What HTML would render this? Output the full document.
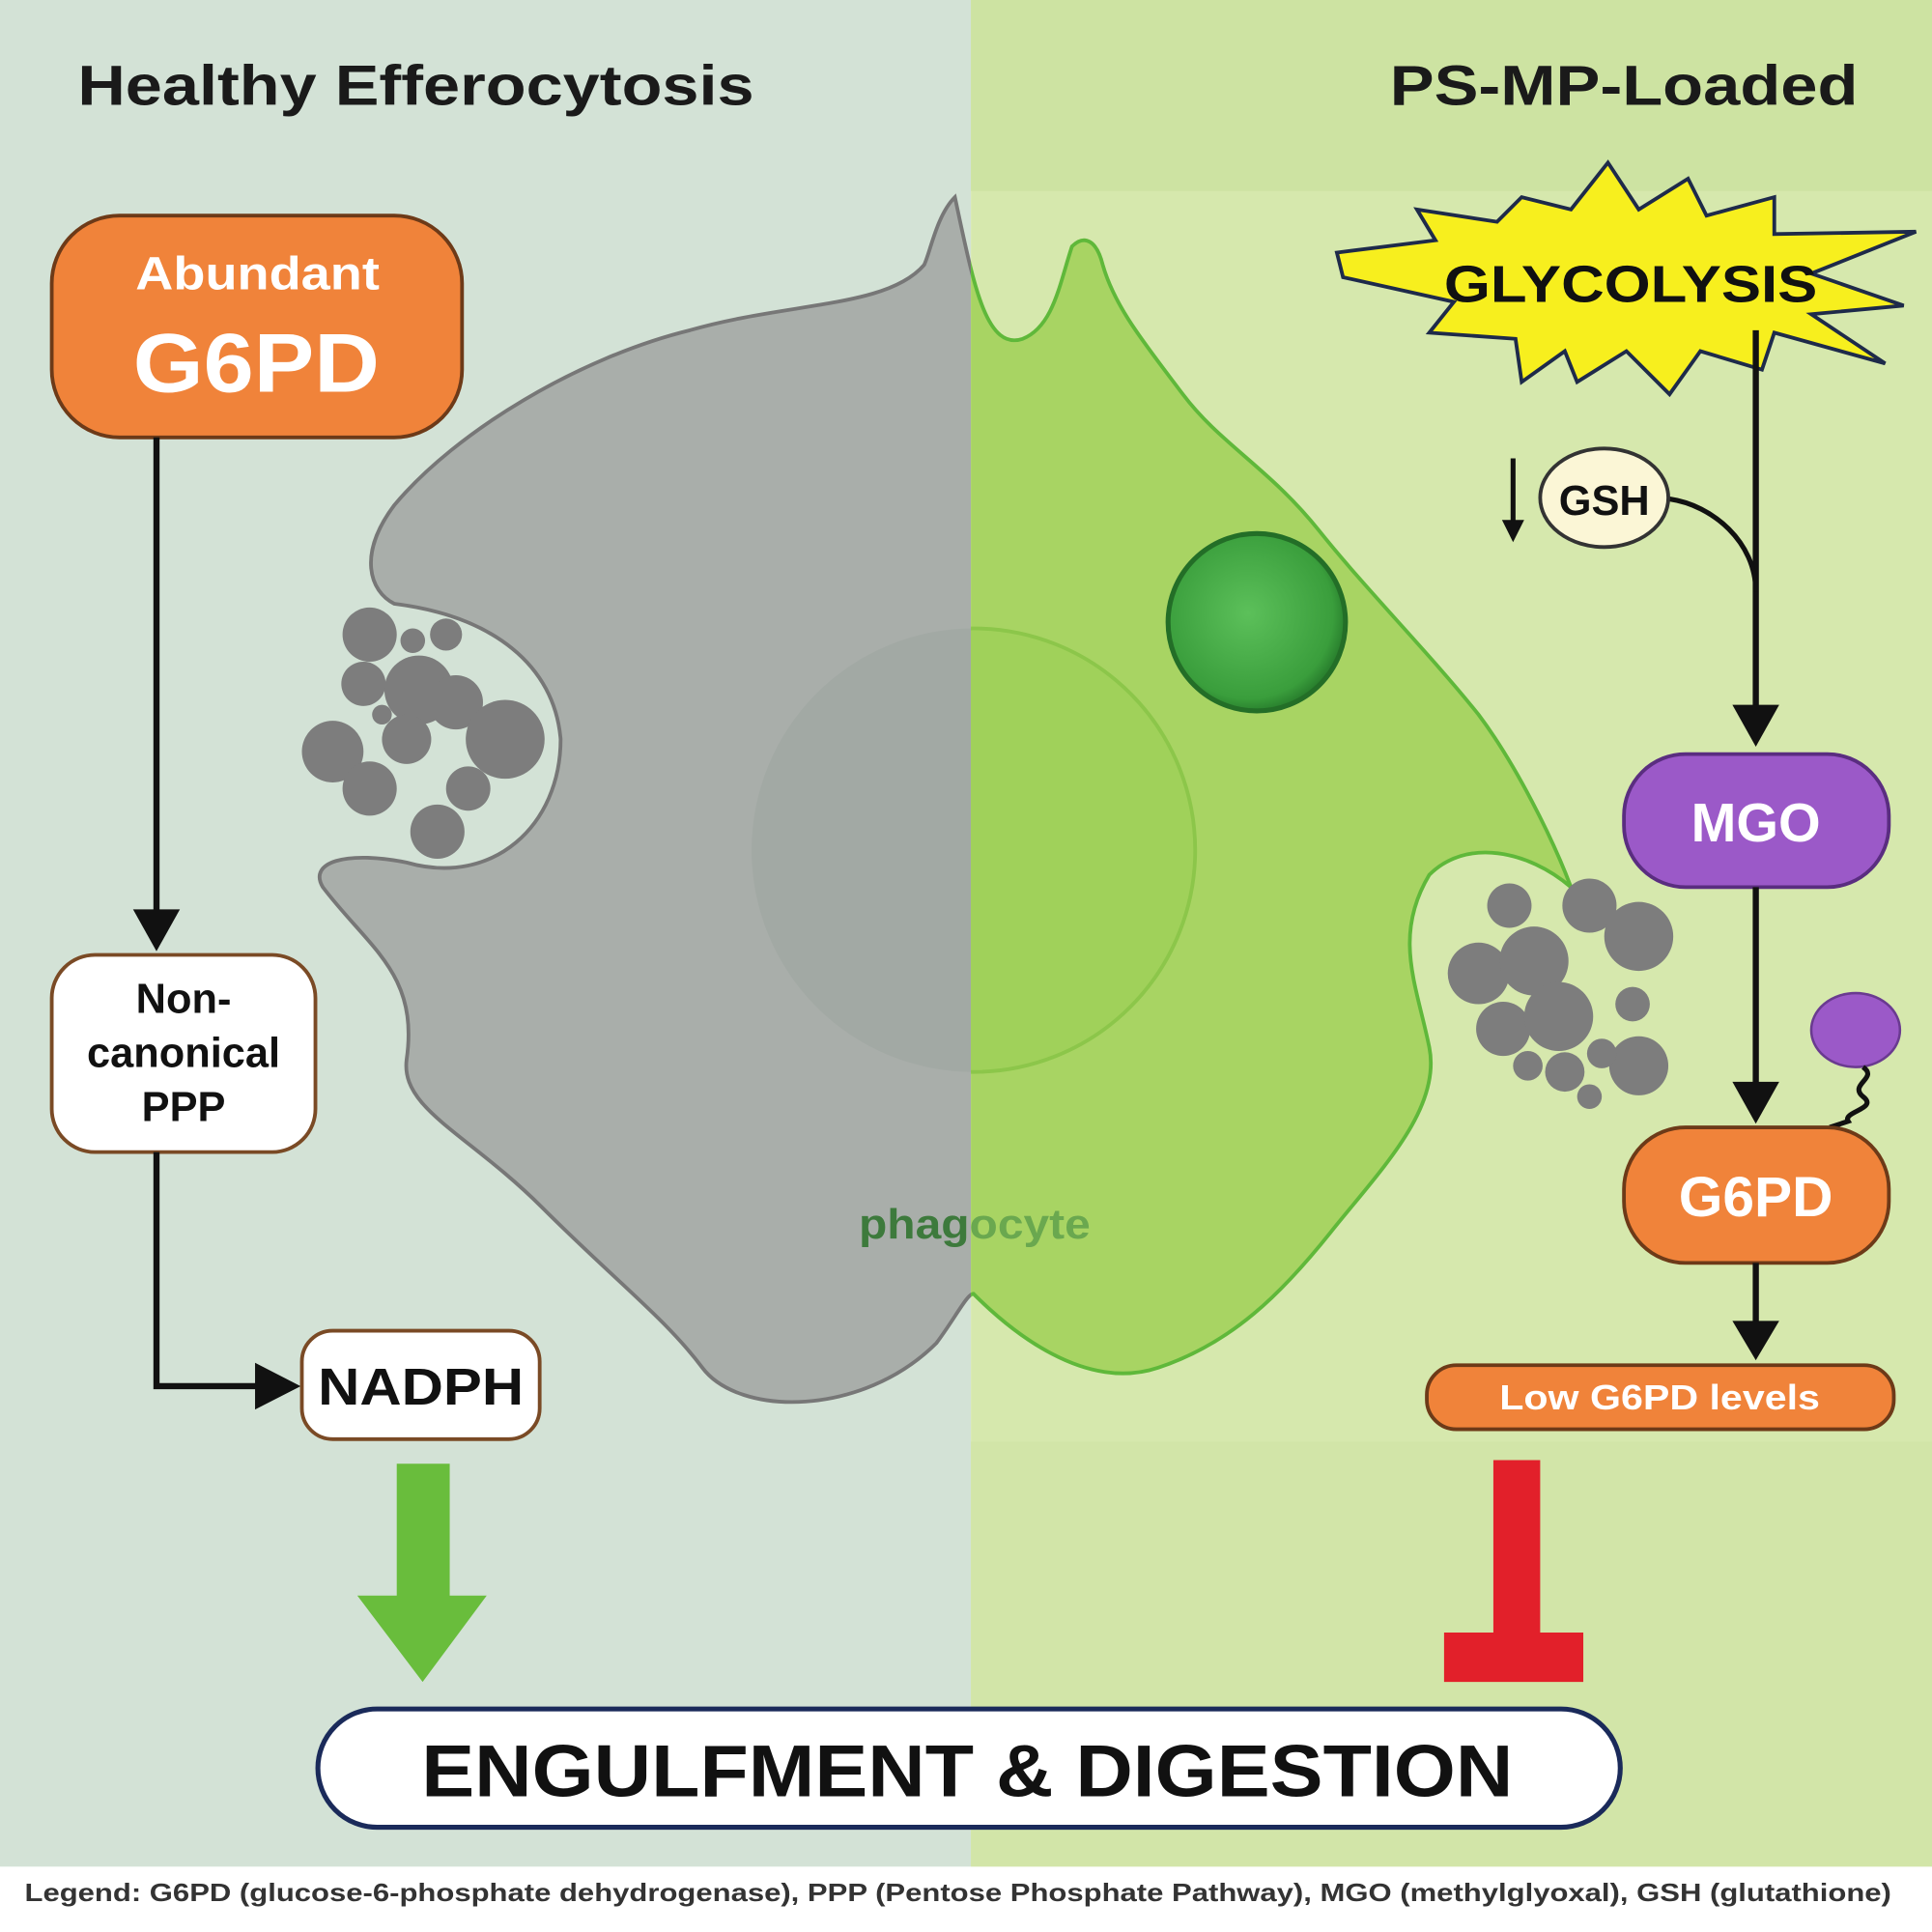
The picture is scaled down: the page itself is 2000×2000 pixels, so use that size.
<!DOCTYPE html>
<html><head><meta charset="utf-8"><style>
html,body{margin:0;padding:0;width:2000px;height:2000px;overflow:hidden;background:#fff}
svg{display:block}
text{font-family:"Liberation Sans",Arial,sans-serif;font-weight:bold}
</style></head><body>
<svg width="2000" height="2000" viewBox="0 0 1568 1568" xmlns="http://www.w3.org/2000/svg">
<defs>
<clipPath id="L"><rect x="0" y="0" width="788" height="1568"/></clipPath>
<clipPath id="R"><rect x="788" y="0" width="800" height="1568"/></clipPath>
<radialGradient id="vac" cx="0.45" cy="0.45" r="0.6"><stop offset="0" stop-color="#5cc05a"/><stop offset="0.8" stop-color="#3a9e3c"/><stop offset="1" stop-color="#1f6e25"/></radialGradient>
<path id="cp" d="M775,160 C760,175 755,205 750,215 C720,250 640,245 560,268 C470,290 370,350 320,410 C290,450 300,480 320,490 C400,500 450,540 455,600 C455,670 400,720 330,700 C280,690 250,700 262,720 C300,770 340,790 330,860 C325,900 380,920 440,980 C500,1040 540,1070 570,1110 C600,1150 700,1150 760,1090 C775,1070 785,1050 790,1050 C820,1080 880,1130 940,1110 C1000,1090 1040,1050 1080,1000 C1120,950 1170,900 1160,850 C1150,800 1130,760 1160,710 C1190,680 1240,690 1275,720 C1260,680 1230,620 1200,580 C1160,530 1110,480 1070,430 C1030,380 990,360 960,320 C930,280 905,250 895,215 C890,195 880,190 870,200 C860,230 855,265 830,275 C800,285 790,230 775,160 Z"/>
</defs>
<rect x="0" y="0" width="788" height="1515" fill="#d3e2d6"/>
<rect x="788" y="0" width="780" height="1515" fill="#d6e8ad"/>
<rect x="788" y="0" width="780" height="155" fill="#cde3a2"/>
<rect x="788" y="1170" width="780" height="345" fill="#d2e5a8"/>
<rect x="0" y="1515" width="1568" height="53" fill="#fff"/>

<text x="63" y="85" font-size="46" fill="#1a1a1a" textLength="549" lengthAdjust="spacingAndGlyphs">Healthy Efferocytosis</text>
<text x="1128" y="85" font-size="46" fill="#1a1a1a" textLength="380" lengthAdjust="spacingAndGlyphs">PS-MP-Loaded</text>

<use href="#cp" fill="#a9aeaa" stroke="#777" stroke-width="3" clip-path="url(#L)"/>
<use href="#cp" fill="#a8d463" stroke="#5fb83a" stroke-width="3" clip-path="url(#R)"/>
<circle cx="790" cy="690" r="180" fill="#a2a9a4" clip-path="url(#L)"/>
<circle cx="790" cy="690" r="180" fill="#a0d15a" stroke="#8cc64a" stroke-width="3" clip-path="url(#R)"/>
<circle cx="1020" cy="505" r="72" fill="url(#vac)" stroke="#236e27" stroke-width="4"/>
<g fill="#7d7d7d">
<circle cx="300" cy="515" r="22"/><circle cx="335" cy="520" r="10"/><circle cx="362" cy="515" r="13"/>
<circle cx="295" cy="555" r="18"/><circle cx="340" cy="560" r="28"/><circle cx="370" cy="570" r="22"/>
<circle cx="270" cy="610" r="25"/><circle cx="300" cy="640" r="22"/><circle cx="330" cy="600" r="20"/>
<circle cx="410" cy="600" r="32"/><circle cx="380" cy="640" r="18"/><circle cx="355" cy="675" r="22"/><circle cx="310" cy="580" r="8"/>
</g>
<g fill="#7d7d7d">
<circle cx="1225" cy="735" r="18"/><circle cx="1290" cy="735" r="22"/><circle cx="1330" cy="760" r="28"/>
<circle cx="1200" cy="790" r="25"/><circle cx="1245" cy="780" r="28"/><circle cx="1220" cy="835" r="22"/>
<circle cx="1265" cy="825" r="28"/><circle cx="1325" cy="815" r="14"/><circle cx="1330" cy="865" r="24"/>
<circle cx="1270" cy="870" r="16"/><circle cx="1300" cy="855" r="12"/><circle cx="1240" cy="865" r="12"/><circle cx="1290" cy="890" r="10"/>
</g>
<text x="697" y="1005" font-size="34" fill="#3d7a3c" textLength="188" lengthAdjust="spacingAndGlyphs">phag<tspan fill="#6aa84f">ocyte</tspan></text>

<rect x="42" y="175" width="333" height="180" rx="55" fill="#f0833a" stroke="#6d3a18" stroke-width="3"/>
<text x="110" y="235" font-size="38" fill="#fff" textLength="198" lengthAdjust="spacingAndGlyphs">Abundant</text>
<text x="108" y="318" font-size="68" fill="#fff" textLength="200" lengthAdjust="spacingAndGlyphs">G6PD</text>
<line x1="127" y1="355" x2="127" y2="745" stroke="#111" stroke-width="5"/>
<path d="M108,738 L146,738 L127,772z" fill="#111"/>
<rect x="42" y="775" width="214" height="160" rx="35" fill="#fff" stroke="#7a4a25" stroke-width="3"/>
<text x="149" y="822" font-size="34" fill="#111" text-anchor="middle">Non-</text>
<text x="149" y="866" font-size="34" fill="#111" text-anchor="middle">canonical</text>
<text x="149" y="910" font-size="34" fill="#111" text-anchor="middle">PPP</text>
<path d="M127,935 L127,1125 L215,1125" fill="none" stroke="#111" stroke-width="5"/>
<path d="M207,1106 L244,1125 L207,1144z" fill="#111"/>
<rect x="245" y="1080" width="193" height="88" rx="25" fill="#fff" stroke="#7a4a25" stroke-width="3"/>
<text x="258" y="1140" font-size="42" fill="#111" textLength="167" lengthAdjust="spacingAndGlyphs">NADPH</text>
<path d="M322,1188 L365,1188 L365,1295 L395,1295 L343,1365 L290,1295 L322,1295z" fill="#69bd3c"/>
<path d="M1212,1185 L1250,1185 L1250,1325 L1285,1325 L1285,1365 L1172,1365 L1172,1325 L1212,1325z" fill="#e2202a"/>

<polygon points="1085,205 1165,195 1150,170 1215,180 1235,160 1275,170 1305,132 1330,170 1370,145 1385,175 1440,160 1440,190 1555,188 1470,222 1545,248 1470,255 1530,295 1440,270 1430,300 1380,285 1355,320 1320,285 1280,310 1270,285 1235,310 1230,275 1160,270 1180,245 1090,225" fill="#f7ef1e" stroke="#1e2a4a" stroke-width="3"/>
<text x="1172" y="245" font-size="42" fill="#111" textLength="303" lengthAdjust="spacingAndGlyphs">GLYCOLYSIS</text>
<line x1="1425" y1="268" x2="1425" y2="575" stroke="#111" stroke-width="5"/>
<path d="M1406,572 L1444,572 L1425,606z" fill="#111"/>
<path d="M1355,405 C1390,410 1425,440 1425,480" fill="none" stroke="#111" stroke-width="4"/>
<ellipse cx="1302" cy="404" rx="52" ry="40" fill="#fbf6d6" stroke="#333" stroke-width="3"/>
<text x="1302" y="418" font-size="34" fill="#111" text-anchor="middle">GSH</text>
<line x1="1228" y1="372" x2="1228" y2="430" stroke="#111" stroke-width="4"/>
<path d="M1219,422 L1237,422 L1228,440z" fill="#111"/>
<rect x="1318" y="612" width="215" height="108" rx="50" fill="#9b59c8" stroke="#5a2d80" stroke-width="3"/>
<text x="1425" y="683" font-size="44" fill="#fff" text-anchor="middle">MGO</text>
<line x1="1425" y1="720" x2="1425" y2="880" stroke="#111" stroke-width="5"/>
<path d="M1406,878 L1444,878 L1425,912z" fill="#111"/>
<ellipse cx="1506" cy="836" rx="36" ry="30" fill="#9b59c8" stroke="#6a3a90" stroke-width="2"/>
<path d="M1512,866 C1525,875 1500,880 1512,890 C1525,900 1495,902 1500,910 L1485,915" fill="none" stroke="#111" stroke-width="4"/>
<rect x="1318" y="915" width="215" height="110" rx="50" fill="#f0833a" stroke="#6d3a18" stroke-width="3"/>
<text x="1425" y="987" font-size="46" fill="#fff" text-anchor="middle">G6PD</text>
<line x1="1425" y1="1025" x2="1425" y2="1075" stroke="#111" stroke-width="5"/>
<path d="M1406,1072 L1444,1072 L1425,1104z" fill="#111"/>
<rect x="1158" y="1108" width="379" height="52" rx="24" fill="#f0833a" stroke="#6d3a18" stroke-width="3"/>
<text x="1217" y="1144" font-size="28" fill="#fff" textLength="260" lengthAdjust="spacingAndGlyphs">Low G6PD levels</text>

<rect x="258" y="1387" width="1057" height="96" rx="48" fill="#fff" stroke="#1a2a5a" stroke-width="4"/>
<text x="342" y="1458" font-size="60" fill="#111" textLength="886" lengthAdjust="spacingAndGlyphs">ENGULFMENT &amp; DIGESTION</text>
<text x="20" y="1543" font-size="20" fill="#333" textLength="1515" lengthAdjust="spacingAndGlyphs">Legend: G6PD (glucose-6-phosphate dehydrogenase), PPP (Pentose Phosphate Pathway), MGO (methylglyoxal), GSH (glutathione)</text>
</svg>
</body></html>
